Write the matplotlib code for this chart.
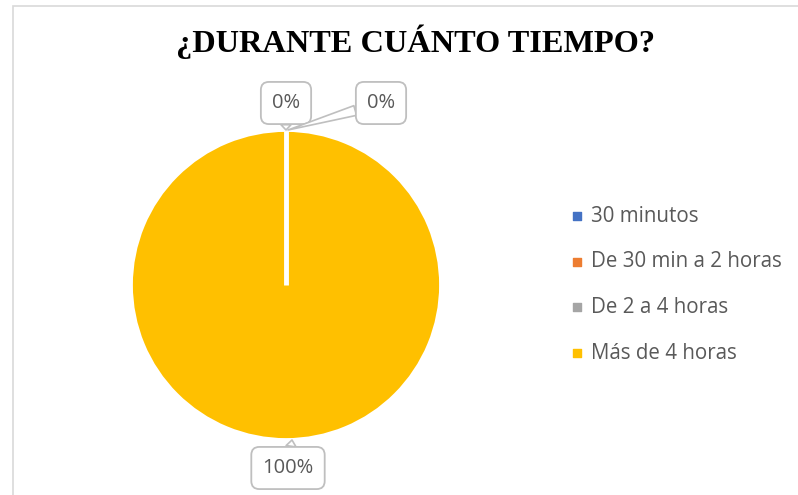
import numpy as np
import matplotlib.pyplot as plt
from matplotlib.patches import Rectangle

# datos
categorias = ['30 minutos', 'De 30 min a 2 horas', 'De 2 a 4 horas', 'Más de 4 horas']
valores = [0, 0, 0, 100]
colores = ['#4472C4', '#ED7D31', '#A5A5A5', '#FFC000']
etiquetas = ['0%', '0%', '', '100%']
titulo = '¿DURANTE CUÁNTO TIEMPO?'

W, H = 798, 495
fig = plt.figure(figsize=(W / 100, H / 100), dpi=100)
ax = fig.add_axes([0, 0, 1, 1])

# marco del grafico
ax.add_patch(Rectangle((13, -5), W, H - 6 + 5, fill=False, edgecolor='#d9d9d9', lw=1.2))

cx, cy, r = 286, H - 285, 154.5
wedges, _ = ax.pie(valores, colors=colores, startangle=90, counterclock=False,
                   center=(cx, cy), radius=r, frame=True,
                   wedgeprops=dict(edgecolor='white', linewidth=2))
ax.set_xlim(0, W)
ax.set_ylim(0, H)
ax.set_axis_off()

# linea de separacion entre porciones
cum = np.cumsum([0] + valores[:-1]) / sum(valores)
for c in np.unique(cum):
    ang = np.deg2rad(90 - c * 360)
    ax.plot([cx, cx + r * np.cos(ang)], [cy, cy + r * np.sin(ang)], color='white', lw=3.5,
            solid_capstyle='butt', zorder=5)

# etiquetas de datos
pos = [(286, H - 103), (381, H - 103), None, (288, H - 468)]
tip = [(286, H - 130), (288, H - 130), None, (292, H - 440)]
for i, lab in enumerate(etiquetas):
    if not lab:
        continue
    ax.annotate(lab, xy=tip[i], xytext=pos[i], ha='center', va='center',
                fontsize=14.5, color='#595959', family='Open Sans', zorder=6,
                bbox=dict(boxstyle='round,pad=0.55,rounding_size=0.4', fc='white',
                          ec='#bfbfbf', lw=1.3),
                arrowprops=dict(arrowstyle='wedge,tail_width=0.5', fc='white', ec='#bfbfbf',
                                lw=1.2, shrinkA=0, shrinkB=0))

# titulo
ax.text(416, H - 42, titulo, ha='center', va='center', fontsize=23.3, fontweight='bold',
        family='Liberation Serif', color='black')

# leyenda
for i, cat in enumerate(categorias):
    y = H - (216 + i * 45.7)
    ax.scatter([577], [y], marker='s', s=40, color=colores[i], zorder=6)
    ax.text(591, y, cat, ha='left', va='center', fontsize=14.8, color='#595959',
            family='Open Sans')

fig.savefig('out.png', dpi=100)
